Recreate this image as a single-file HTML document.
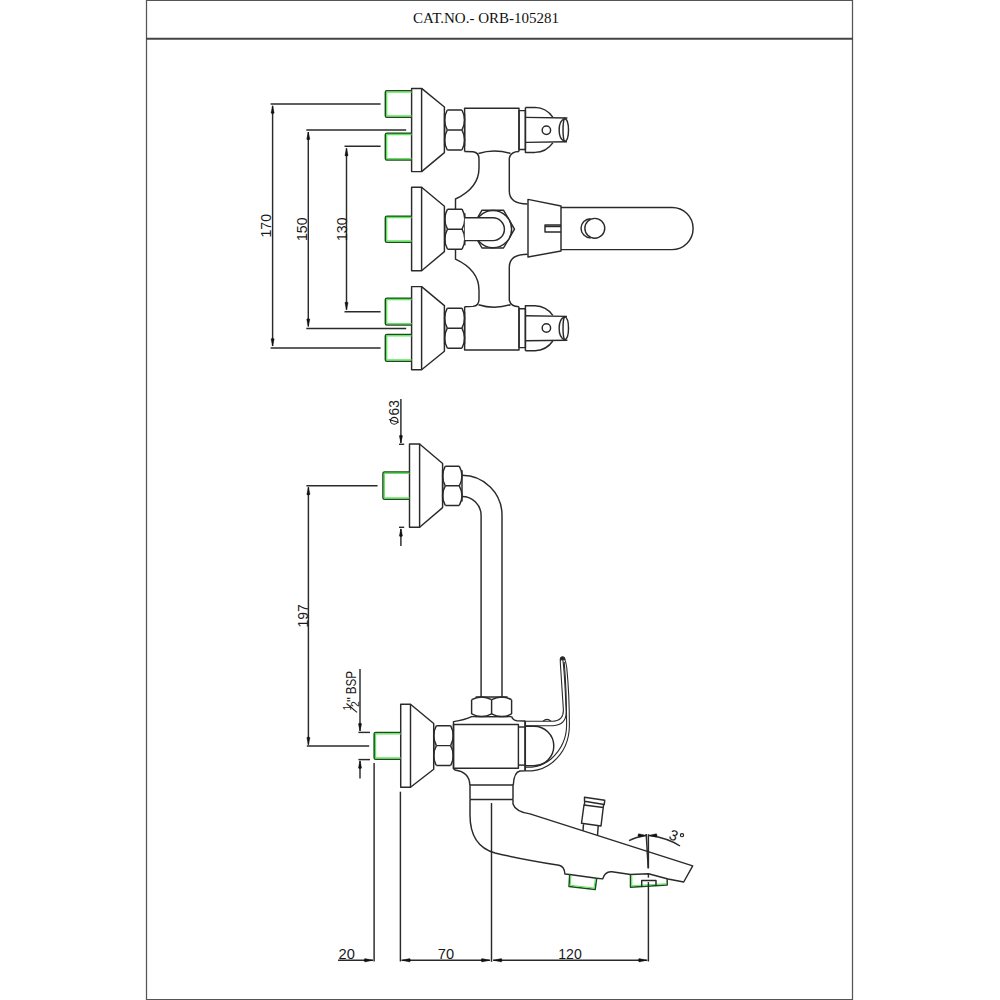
<!DOCTYPE html>
<html><head><meta charset="utf-8"><style>
html,body{margin:0;padding:0;background:#fff;width:1000px;height:1000px;overflow:hidden}
svg{display:block}
text{font-family:"Liberation Sans",sans-serif}
</style></head><body>
<svg width="1000" height="1000" viewBox="0 0 1000 1000">
<rect x="0" y="0" width="1000" height="1000" fill="#fff"/>
<g stroke="#555" stroke-width="1.25">
<line x1="146.5" y1="0" x2="146.5" y2="1000" />
<line x1="852.5" y1="0" x2="852.5" y2="1000" />
<line x1="146" y1="0.5" x2="853" y2="0.5" stroke="#555" stroke-width="1.1"/>
<line x1="146" y1="38.8" x2="853" y2="38.8" stroke="#444" stroke-width="2"/>
<line x1="146" y1="999.5" x2="853" y2="999.5" stroke="#555" stroke-width="1.2"/>
</g>
<text x="413" y="23" style="font-family:'Liberation Serif',serif" font-size="15" fill="#111" stroke="none">CAT.NO.- ORB-105281</text>
<g fill="none" stroke="#2a2a2a" stroke-width="1.45" stroke-linejoin="round">
<rect x="411.6" y="88.4" width="10" height="83.2" />
<path d="M421.6,88.4 L444.4,107 L444.4,152.6 L421.6,171.6" />
<line x1="444.6" y1="114" x2="444.6" y2="146" />
<line x1="464.6" y1="114" x2="464.6" y2="146" />
<path d="M447.3,110 L461.90000000000003,110 M447.3,150 L461.90000000000003,150 M447.3,130.0 L461.90000000000003,130.0" />
<path d="M447.3,110 Q441.90000000000003,120.0 447.3,130.0 M461.90000000000003,110 Q467.3,120.0 461.90000000000003,130.0" />
<path d="M447.3,130.0 Q441.90000000000003,140.0 447.3,150 M461.90000000000003,130.0 Q467.3,140.0 461.90000000000003,150" />
<path d="M464.6,151.5 L464.6,108.2 L519,108.2 L519,151.5" />
<rect x="519" y="110.6" width="6.4" height="38.8" />
<path d="M525.4,107.4 L535,107.4 A22.6,22.6 0 0 1 552.8,117.2 M552.8,142.8 A22.6,22.6 0 0 1 535,152.4 L525.4,152.4 L525.4,107.4" />
<path d="M525.4,117.4 L567.4,118 M525.4,142.4 L567,141.8" />
<path d="M564.6,118.2 C569.8,120 569.8,140 564.6,141.6 C562.5,138 562.5,122 564.6,118.2 Z" />
<path d="M564.4,118.6 C557.4,121.5 557.4,138.5 564.4,141.2" />
<circle cx="546.4" cy="130.2" r="4.2" />
<g transform="translate(0,458.2) scale(1,-1)">
<rect x="411.6" y="88.4" width="10" height="83.2" />
<path d="M421.6,88.4 L444.4,107 L444.4,152.6 L421.6,171.6" />
<line x1="444.6" y1="114" x2="444.6" y2="146" />
<line x1="464.6" y1="114" x2="464.6" y2="146" />
<path d="M447.3,110 L461.90000000000003,110 M447.3,150 L461.90000000000003,150 M447.3,130.0 L461.90000000000003,130.0" />
<path d="M447.3,110 Q441.90000000000003,120.0 447.3,130.0 M461.90000000000003,110 Q467.3,120.0 461.90000000000003,130.0" />
<path d="M447.3,130.0 Q441.90000000000003,140.0 447.3,150 M461.90000000000003,130.0 Q467.3,140.0 461.90000000000003,150" />
<path d="M464.6,151.5 L464.6,108.2 L519,108.2 L519,151.5" />
<rect x="519" y="110.6" width="6.4" height="38.8" />
<path d="M525.4,107.4 L535,107.4 A22.6,22.6 0 0 1 552.8,117.2 M552.8,142.8 A22.6,22.6 0 0 1 535,152.4 L525.4,152.4 L525.4,107.4" />
<path d="M525.4,117.4 L567.4,118 M525.4,142.4 L567,141.8" />
<path d="M564.6,118.2 C569.8,120 569.8,140 564.6,141.6 C562.5,138 562.5,122 564.6,118.2 Z" />
<path d="M564.4,118.6 C557.4,121.5 557.4,138.5 564.4,141.2" />
<circle cx="546.4" cy="130.2" r="4.2" />
</g>
<path d="M464.6,151.5 L473,151.8 Q479,152.5 479,159 L479,168 Q479,188 455.5,199 L455.5,209.2" />
<path d="M478.5,153.5 Q494,148.5 510.5,153.5" />
<path d="M519,151.5 Q511,151.5 509.3,158 L509.3,191 Q509.3,204 527.5,204" />
<path d="M464.6,306.7 L473,306.4 Q479,305.7 479,299.2 L479,290.2 Q479,270.2 455.5,259.2 L455.5,249" />
<path d="M478.5,304.7 Q494,309.7 510.5,304.7" />
<path d="M519,306.7 Q511,306.7 509.3,300.2 L509.3,267.2 Q509.3,254.2 527.5,254.2" />
<rect x="411.6" y="187.3" width="10" height="83.5" />
<path d="M421.6,187.3 L444.4,206.3 L444.4,251.6 L421.6,270.8" />
<path d="M482,210.2 L503.5,210.2 L514.5,229.2 L503.5,248 L482,248 L471,229.2 Z" fill="#fff"/>
<circle cx="493" cy="229.2" r="18.6" fill="#fff"/>
<line x1="444.8" y1="213.2" x2="444.8" y2="245.2" />
<line x1="464.8" y1="213.2" x2="464.8" y2="245.2" />
<path d="M447.5,209.2 L462.1,209.2 M447.5,249.2 L462.1,249.2 M447.5,229.2 L462.1,229.2" />
<path d="M447.5,209.2 Q442.1,219.2 447.5,229.2 M462.1,209.2 Q467.5,219.2 462.1,229.2" />
<path d="M447.5,229.2 Q442.1,239.2 447.5,249.2 M462.1,229.2 Q467.5,239.2 462.1,249.2" />
<path d="M464.8,217.8 L493,217.8 A11.4,11.4 0 0 1 493,240.6 L464.8,240.6" fill="#fff"/>
<path d="M528,199.4 L561,206 L561,251 L528,257 Z" />
<path d="M561,207.4 L672,207.4 A21.1,21.1 0 0 1 672,249.6 L561,249.6" />
<path d="M590.6,218.7 A9.6,9.6 0 0 0 590.6,237.9" />
<circle cx="594.8" cy="228.3" r="9.95" fill="#fff"/>
<path d="M561,225 L545,225 L545,232 L561,232" />
<line x1="545" y1="226.5" x2="561" y2="226.5" />
<path d="M411.6,90.8 L386.9,90.8 Q385.4,90.8 385.4,92.3 L385.4,115.7 Q385.4,117.2 386.9,117.2 L411.6,117.2" fill="none" stroke="#1a4d1a" stroke-width="1.6"/>
<path d="M411.6,92.1 L386.7,92.1 L386.7,115.9 L411.6,115.9" fill="none" stroke="#5ee65e" stroke-width="1.3"/>
<path d="M411.6,133.2 L386.9,133.2 Q385.4,133.2 385.4,134.7 L385.4,158.5 Q385.4,160 386.9,160 L411.6,160" fill="none" stroke="#1a4d1a" stroke-width="1.6"/>
<path d="M411.6,134.5 L386.7,134.5 L386.7,158.7 L411.6,158.7" fill="none" stroke="#5ee65e" stroke-width="1.3"/>
<path d="M411.6,216.2 L386.9,216.2 Q385.4,216.2 385.4,217.7 L385.4,240.8 Q385.4,242.3 386.9,242.3 L411.6,242.3" fill="none" stroke="#1a4d1a" stroke-width="1.6"/>
<path d="M411.6,217.5 L386.7,217.5 L386.7,241.0 L411.6,241.0" fill="none" stroke="#5ee65e" stroke-width="1.3"/>
<path d="M411.6,298.2 L386.9,298.2 Q385.4,298.2 385.4,299.7 L385.4,323.5 Q385.4,325 386.9,325 L411.6,325" fill="none" stroke="#1a4d1a" stroke-width="1.6"/>
<path d="M411.6,299.5 L386.7,299.5 L386.7,323.7 L411.6,323.7" fill="none" stroke="#5ee65e" stroke-width="1.3"/>
<path d="M411.6,334.5 L386.9,334.5 Q385.4,334.5 385.4,336.0 L385.4,359.7 Q385.4,361.2 386.9,361.2 L411.6,361.2" fill="none" stroke="#1a4d1a" stroke-width="1.6"/>
<path d="M411.6,335.8 L386.7,335.8 L386.7,359.9 L411.6,359.9" fill="none" stroke="#5ee65e" stroke-width="1.3"/>
<line x1="270.6" y1="103.9" x2="380.6" y2="103.9" />
<line x1="270.6" y1="348" x2="380.6" y2="348" />
<line x1="272.6" y1="105.8" x2="272.6" y2="346" />
<path d="M272.6,105.8 L274.20000000000005,113.0 Q272.6,114.44 271.0,113.0 Z" fill="#111" stroke="#111" stroke-width="0.4"/>
<path d="M272.6,346.1 L274.20000000000005,338.90000000000003 Q272.6,337.46000000000004 271.0,338.90000000000003 Z" fill="#111" stroke="#111" stroke-width="0.4"/>
<line x1="306.3" y1="130" x2="406.2" y2="130" />
<line x1="306.3" y1="328.5" x2="406.2" y2="328.5" />
<line x1="308.3" y1="132" x2="308.3" y2="326.5" />
<path d="M308.3,132 L309.90000000000003,139.2 Q308.3,140.64 306.7,139.2 Z" fill="#111" stroke="#111" stroke-width="0.4"/>
<path d="M308.3,326.5 L309.90000000000003,319.3 Q308.3,317.86 306.7,319.3 Z" fill="#111" stroke="#111" stroke-width="0.4"/>
<line x1="344.5" y1="146.3" x2="380.6" y2="146.3" />
<line x1="344.5" y1="311.8" x2="380.6" y2="311.8" />
<line x1="346.5" y1="148.3" x2="346.5" y2="309.8" />
<path d="M346.5,148.3 L348.1,155.5 Q346.5,156.94 344.9,155.5 Z" fill="#111" stroke="#111" stroke-width="0.4"/>
<path d="M346.5,309.8 L348.1,302.6 Q346.5,301.16 344.9,302.6 Z" fill="#111" stroke="#111" stroke-width="0.4"/>
</g>
<g fill="none" stroke="#2a2a2a" stroke-width="1.45" stroke-linejoin="round">
<rect x="409.5" y="444" width="10.1" height="83.3" />
<path d="M419.6,444 L442.6,463.5 L442.6,507.6 L419.6,527.3" />
<line x1="442.6" y1="470.2" x2="442.6" y2="501.4" />
<line x1="462" y1="470.2" x2="462" y2="501.4" />
<path d="M445.3,466.2 L459.3,466.2 M445.3,505.4 L459.3,505.4 M445.3,485.79999999999995 L459.3,485.79999999999995" />
<path d="M445.3,466.2 Q439.90000000000003,476.0 445.3,485.79999999999995 M459.3,466.2 Q464.7,476.0 459.3,485.79999999999995" />
<path d="M445.3,485.79999999999995 Q439.90000000000003,495.59999999999997 445.3,505.4 M459.3,485.79999999999995 Q464.7,495.59999999999997 459.3,505.4" />
<path d="M462,475.2 A40,40 0 0 1 502,515.2 L502,697" />
<path d="M462,496.4 A19.1,19.1 0 0 1 481.1,515.5 L481.1,697" />
<rect x="400.7" y="704.3" width="9.8" height="82.9" />
<path d="M410.5,704.3 L433.7,723.5 L433.7,769.2 L410.5,787.2" />
<line x1="433.7" y1="729.7" x2="433.7" y2="761.5" />
<line x1="453.3" y1="729.7" x2="453.3" y2="761.5" />
<path d="M436.4,725.7 L450.6,725.7 M436.4,765.5 L450.6,765.5 M436.4,745.6 L450.6,745.6" />
<path d="M436.4,725.7 Q431.0,735.6500000000001 436.4,745.6 M450.6,725.7 Q456.0,735.6500000000001 450.6,745.6" />
<path d="M436.4,745.6 Q431.0,755.55 436.4,765.5 M450.6,745.6 Q456.0,755.55 450.6,765.5" />
<rect x="453.5" y="724.4" width="64.9" height="43.8" />
<path d="M453.5,769 L453.5,721.6 Q465,719.8 471.6,716.6 L511.6,716.6" />
<line x1="475.6" y1="697" x2="507.6" y2="697" />
<line x1="475.6" y1="716.6" x2="507.6" y2="716.6" />
<path d="M471.6,699.7 L471.6,713.9 M511.6,699.7 L511.6,713.9 M491.6,699.7 L491.6,713.9" />
<path d="M471.6,699.7 Q481.6,694.3 491.6,699.7 M471.6,713.9 Q481.6,719.3000000000001 491.6,713.9" />
<path d="M491.6,699.7 Q501.6,694.3 511.6,699.7 M491.6,713.9 Q501.6,719.3000000000001 511.6,713.9" />
<path d="M511.6,716.6 Q513,720.5 517,720.8 L525.2,720.9" />
<path d="M453.5,769 L455,770 Q469.5,772 469.8,785" />
<path d="M525,770.9 L520,771 Q514,772 513.3,785" />
<line x1="518.4" y1="727" x2="525.1" y2="727" />
<line x1="518.4" y1="765.1" x2="525.1" y2="765.1" />
<line x1="525.1" y1="720.9" x2="525.1" y2="770.9" stroke-width="1.9"/>
<path d="M469.8,785 L513.3,785 M470,799.5 L513,799.5 M470,785 L470,799.5 M513,785 L513,799.5" />
<path d="M525,726.3 L534,726.3 A19.8,19.7 0 0 1 534,765.7 L525,765.7" />
<g stroke-width="1.1">
<path d="M525,721.2 L553,721.2 Q563.4,720.8 563.4,710 L560.4,664 Q559.8,657.2 562.4,657.2" />
<path d="M525,725.7 L553,725.7 Q566.2,725 566.2,712 L565.2,690 Q563.8,664 562.4,657.2" />
<path d="M562.4,657.2 Q565.4,657.5 566.8,668 Q569.4,695 569.4,725 Q569.4,748 553,762 Q544,769.5 532,770.9 L525,770.9" />
<path d="M564.2,662 Q566.6,690 566.6,725 Q566.6,745 551,759 Q542,766.3 532,767.2 L525,767.2" />
<path d="M543,721.2 Q547,717.6 551,721.2" />
<path d="M560.2,660 Q560.3,657 562.5,656.9 Q564.6,657 565,659.5 Z" fill="#222"/>
</g>
<path d="M470,799.5 L470,815 Q470,846 495,853 Q520,859 559,865.3 Q564.5,866.5 564.9,874 L569.7,874.5" />
<path d="M513,799.5 L513,804 Q515.5,811.8 530,813.9 L692.7,865.9 L683.7,882 L668,879 L648.5,873.7 L630.5,874.5 L612,871.8 Q605,871 602.7,878.9 L596.7,878.2" />
<path d="M569.7,874.5 L596.7,878.2" />
<path d="M569.7,874.5 L569,886.5 L595.2,889.5 L596.7,878.2" stroke="#1a4d1a" stroke-width="1.5"/>
<path d="M570.9,876 L570.3,885.2 L594,888 L595.3,879" stroke="#5ee65e" stroke-width="1.1"/>
<path d="M630.5,874.5 L630.5,887.2 L667.2,885 L667.2,879" stroke="#1a4d1a" stroke-width="1.5"/>
<path d="M631.8,876 L631.8,885.8 L665.9,883.8" stroke="#5ee65e" stroke-width="1.1"/>
<path d="M641.7,887 L641.7,880.5 L656,880.5 L656,886" />
<path d="M584.5,797.25 L604.75,800.25 L604.25,804.5 L584.5,801.25 Z" />
<path d="M584.8,801.3 L584.3,805 M603.6,804.2 L603.3,807.5" />
<path d="M584,805 L603.25,807.5 L601,826 L581.5,823.25 Z" />
<path d="M583.5,824.3 L583,830.8 M598.2,826 L597.5,835.3" />
<line x1="648.4" y1="834.2" x2="648.4" y2="868.1" />
<line x1="648.4" y1="873" x2="648.4" y2="877.6" />
<line x1="648.4" y1="882.1" x2="648.4" y2="961.5" />
<line x1="646.2" y1="834" x2="648.2" y2="868.5" />
<path d="M629,840.7 Q636,837 646,835.5" />
<path d="M649,835.5 Q668,838 680,846" />
<path d="M645.8,835.3 L638.5999999999999,833.6999999999999 Q637.1599999999999,835.3 638.5999999999999,836.9 Z" fill="#111" stroke="#111" stroke-width="0.4"/>
<path d="M649.2,835.3 L656.4000000000001,833.6999999999999 Q657.8400000000001,835.3 656.4000000000001,836.9 Z" fill="#111" stroke="#111" stroke-width="0.4"/>
<line x1="374.1" y1="763" x2="374.1" y2="961.5" />
<line x1="400.4" y1="791.7" x2="400.4" y2="961.5" />
<line x1="491.5" y1="803" x2="491.5" y2="961.8" />
<line x1="338" y1="960.25" x2="373" y2="960.25" />
<line x1="401.6" y1="960.25" x2="490" y2="960.25" />
<line x1="493.2" y1="960.25" x2="647.2" y2="960.25" />
<path d="M373,960.25 L364.8,958.55 Q363.27000000000004,960.25 364.8,961.95 Z" fill="#111" stroke="#111" stroke-width="0.4"/>
<path d="M401.6,960.25 L409.8,958.55 Q411.33,960.25 409.8,961.95 Z" fill="#111" stroke="#111" stroke-width="0.4"/>
<path d="M490,960.25 L481.8,958.55 Q480.27000000000004,960.25 481.8,961.95 Z" fill="#111" stroke="#111" stroke-width="0.4"/>
<path d="M493.2,960.25 L501.4,958.55 Q502.92999999999995,960.25 501.4,961.95 Z" fill="#111" stroke="#111" stroke-width="0.4"/>
<path d="M647.2,960.25 L639.0,958.55 Q637.47,960.25 639.0,961.95 Z" fill="#111" stroke="#111" stroke-width="0.4"/>
<line x1="400.9" y1="399" x2="400.9" y2="443" />
<line x1="399" y1="444.3" x2="404.2" y2="444.3" />
<path d="M400.9,443 L402.5,435.8 Q400.9,434.36 399.29999999999995,435.8 Z" fill="#111" stroke="#111" stroke-width="0.4"/>
<line x1="399" y1="527.3" x2="404.2" y2="527.3" />
<line x1="400.9" y1="529" x2="400.9" y2="546" />
<path d="M400.9,528.8 L402.5,536.0 Q400.9,537.44 399.29999999999995,536.0 Z" fill="#111" stroke="#111" stroke-width="0.4"/>
<line x1="306.4" y1="485.8" x2="377.6" y2="485.8" />
<line x1="306.8" y1="746" x2="369.2" y2="746" />
<line x1="308.4" y1="487.2" x2="308.4" y2="744.8" />
<path d="M308.4,487.2 L310.0,494.4 Q308.4,495.84 306.79999999999995,494.4 Z" fill="#111" stroke="#111" stroke-width="0.4"/>
<path d="M308.4,744.8 L310.0,737.5999999999999 Q308.4,736.1599999999999 306.79999999999995,737.5999999999999 Z" fill="#111" stroke="#111" stroke-width="0.4"/>
<line x1="360" y1="668.9" x2="360" y2="731" />
<line x1="358.4" y1="732.4" x2="370" y2="732.4" />
<path d="M360,731 L361.6,723.8 Q360,722.3599999999999 358.4,723.8 Z" fill="#111" stroke="#111" stroke-width="0.4"/>
<line x1="358.4" y1="759.6" x2="370" y2="759.6" />
<line x1="360" y1="761" x2="360" y2="778.4" />
<path d="M360,760.8 L361.6,768.0 Q360,769.44 358.4,768.0 Z" fill="#111" stroke="#111" stroke-width="0.4"/>
</g>
<path d="M409.5,472 L384.5,472 Q383,472 383,473.5 L383,497.7 Q383,499.2 384.5,499.2 L409.5,499.2" fill="none" stroke="#1a4d1a" stroke-width="1.6"/>
<path d="M409.5,473.3 L384.3,473.3 L384.3,497.9 L409.5,497.9" fill="none" stroke="#5ee65e" stroke-width="1.3"/>
<path d="M400.7,732.5 L375.7,732.5 Q374.2,732.5 374.2,734.0 L374.2,757.7 Q374.2,759.2 375.7,759.2 L400.7,759.2" fill="none" stroke="#1a4d1a" stroke-width="1.6"/>
<path d="M400.7,733.8 L375.5,733.8 L375.5,757.9000000000001 L400.7,757.9000000000001" fill="none" stroke="#5ee65e" stroke-width="1.3"/>
<g fill="none" stroke="#1a1a1a" stroke-width="1.1">
<ellipse cx="394.2" cy="420.8" rx="3.7" ry="3.4"/>
<line x1="389" y1="419.4" x2="398.7" y2="422.6" />
<line x1="346.5" y1="703.5" x2="357" y2="712.3" />
<circle cx="682" cy="835.2" r="1.6"/>
</g>
<g fill="#1a1a1a" stroke="none" font-family="Liberation Sans, sans-serif">
<text x="0" y="0" transform="translate(271,225.75) rotate(-90)" font-size="15.4" text-anchor="middle" lengthAdjust="spacingAndGlyphs" textLength="23.5">170</text>
<text x="0" y="0" transform="translate(307,229.25) rotate(-90)" font-size="15.4" text-anchor="middle" lengthAdjust="spacingAndGlyphs" textLength="23.5">150</text>
<text x="0" y="0" transform="translate(346.5,229.25) rotate(-90)" font-size="15.4" text-anchor="middle" lengthAdjust="spacingAndGlyphs" textLength="23.5">130</text>
<text x="0" y="0" transform="translate(307.6,615.9) rotate(-90)" font-size="15.4" text-anchor="middle" lengthAdjust="spacingAndGlyphs" textLength="23.2">197</text>
<text x="0" y="0" transform="translate(399.1,407.75) rotate(-90)" font-size="15.4" text-anchor="middle" lengthAdjust="spacingAndGlyphs" textLength="15.3">63</text>
<text x="0" y="0" transform="translate(356,682.6) rotate(-90)" font-size="14.2" text-anchor="middle" textLength="23.2" lengthAdjust="spacingAndGlyphs">BSP</text>
<text x="0" y="0" transform="translate(356.8,699.4) rotate(-90)" font-size="14" text-anchor="middle" >&quot;</text>
<text x="0" y="0" transform="translate(351.2,707.6) rotate(-90)" font-size="10.5" text-anchor="middle" >1</text>
<text x="0" y="0" transform="translate(358.9,704.1) rotate(-90)" font-size="10.5" text-anchor="middle" >2</text>
<text x="346.65" y="958.8" font-size="15.4" text-anchor="middle" lengthAdjust="spacingAndGlyphs" textLength="16.3">20</text>
<text x="446" y="958.8" font-size="15.4" text-anchor="middle" lengthAdjust="spacingAndGlyphs" textLength="16.3">70</text>
<text x="570" y="959" font-size="15.4" text-anchor="middle" lengthAdjust="spacingAndGlyphs" textLength="23.5">120</text>
<text x="0" y="0" transform="translate(668,838.6) rotate(22)" font-size="14.6">3</text>
</g>
</svg>
</body></html>
